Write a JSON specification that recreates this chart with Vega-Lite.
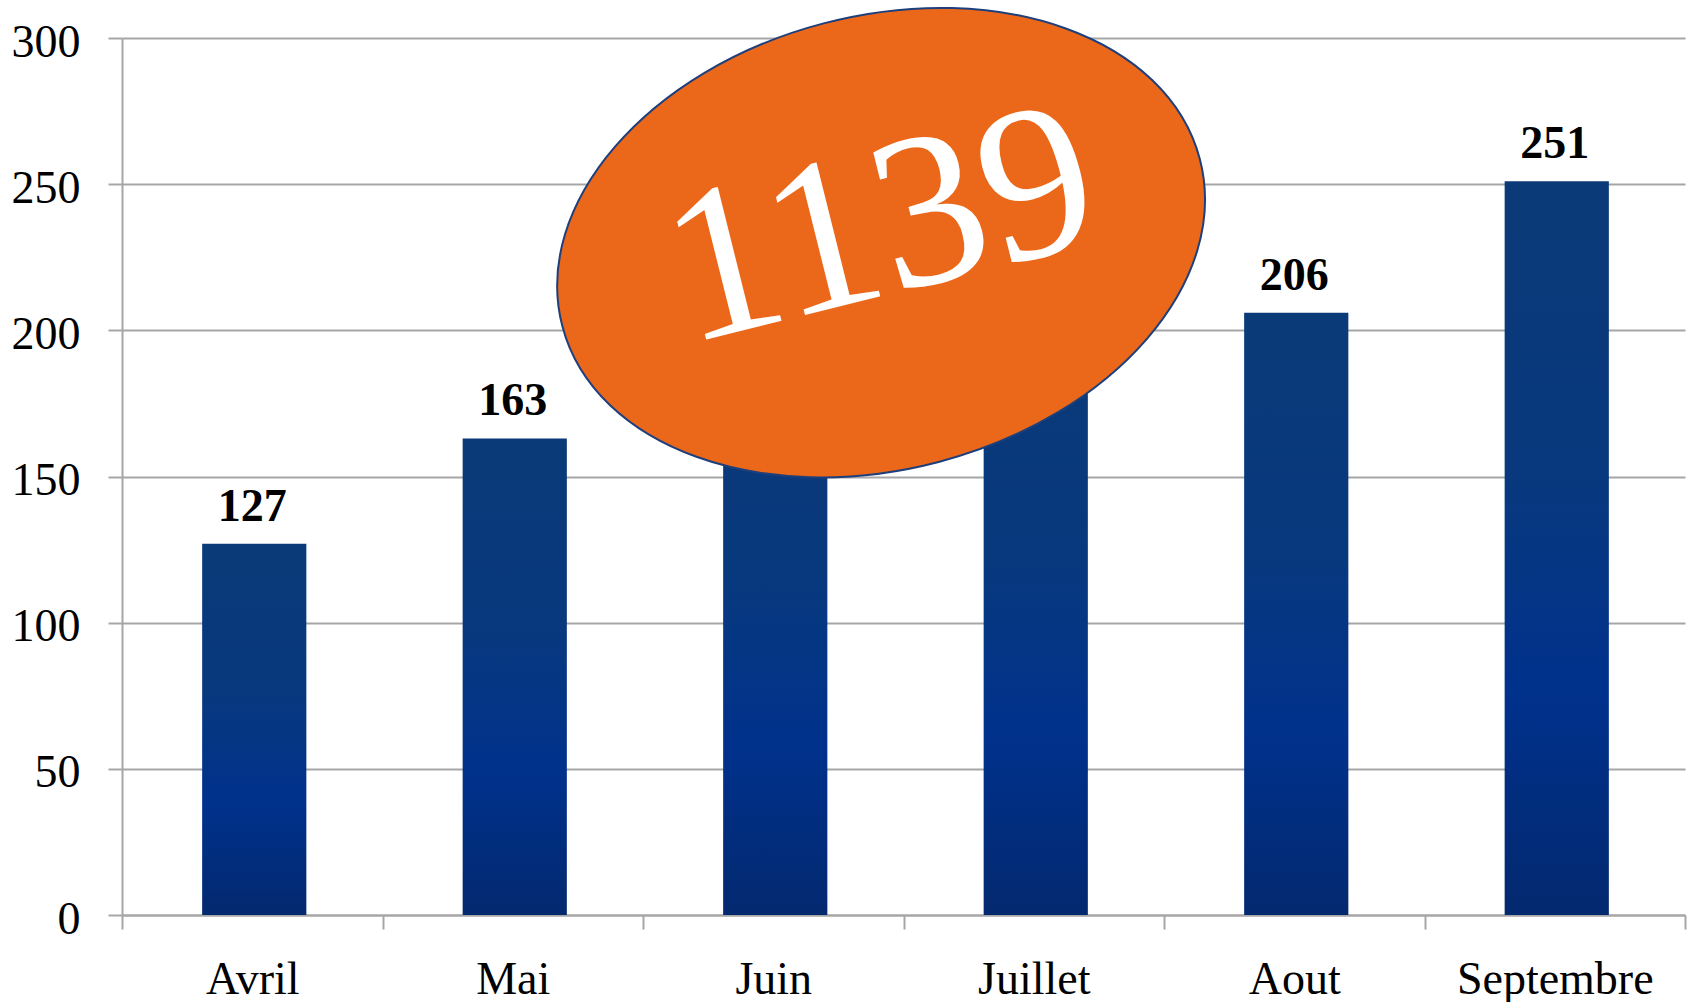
{
  "$schema": "https://vega.github.io/schema/vega-lite/v6.json",
  "width": 1563,
  "height": 877,
  "autosize": {"type": "none"},
  "padding": {"left": 122, "top": 38, "right": 11, "bottom": 87},
  "background": "white",
  "config": {
    "view": {"stroke": null},
    "font": "Liberation Serif"
  },
  "datasets": {
    "ventes": [
      {"mois": "Avril", "valeur": 127},
      {"mois": "Mai", "valeur": 163},
      {"mois": "Juin", "valeur": 190},
      {"mois": "Juillet", "valeur": 202},
      {"mois": "Aout", "valeur": 206},
      {"mois": "Septembre", "valeur": 251}
    ],
    "total": [
      {"pos": 2.914, "y": 230, "label": "1139"}
    ]
  },
  "layer": [
    {
      "data": {"name": "ventes"},
      "encoding": {
        "x": {
          "field": "mois", "type": "nominal", "sort": null,
          "scale": {"paddingInner": 0, "paddingOuter": 0},
          "axis": {
            "title": null, "labelAngle": 0, "labelFont": "Liberation Serif",
            "labelFontSize": 46, "labelColor": "#000", "labelBaseline": "alphabetic",
            "labelPadding": 64, "labelLimit": 400, "tickBand": "extent", "tickSize": 14,
            "tickColor": "#a6a6a6", "tickWidth": 2, "domainColor": "#a6a6a6",
            "domainWidth": 2, "grid": false
          }
        },
        "y": {
          "field": "valeur", "type": "quantitative",
          "scale": {"domain": [0, 300]},
          "axis": {
            "title": null, "values": [0, 50, 100, 150, 200, 250, 300],
            "labelFont": "Liberation Serif", "labelFontSize": 46, "labelColor": "#000",
            "labelPadding": 28, "labelOffset": 4, "tickSize": 14, "tickColor": "#a6a6a6", "tickWidth": 2,
            "domainColor": "#a6a6a6", "domainWidth": 2, "gridColor": "#a6a6a6",
            "gridWidth": 2
          }
        }
      },
      "layer": [
        {
          "mark": {
            "type": "bar",
            "width": {"band": 0.4},
            "xOffset": 2,
            "color": {
              "x1": 0, "y1": 0, "x2": 0, "y2": 1,
              "gradient": "linear",
              "stops": [
                {"offset": 0, "color": "#0b3a78"},
                {"offset": 0.4, "color": "#08397e"},
                {"offset": 0.7, "color": "#00318c"},
                {"offset": 1, "color": "#03296f"}
              ]
            }
          }
        },
        {
          "mark": {
            "type": "text", "font": "Liberation Serif", "fontWeight": "bold",
            "fontSize": 46, "color": "#000", "baseline": "alphabetic", "dy": -23
          },
          "encoding": {
            "text": {"field": "valeur", "type": "quantitative"}
          }
        }
      ]
    },
    {
      "data": {"name": "total"},
      "encoding": {
        "x": {"field": "pos", "type": "quantitative", "scale": {"domain": [0, 6]}, "axis": null}
      },
      "layer": [
        {
          "mark": {
            "type": "point",
            "shape": "M -1 0 A 1 0.688 0 1 0 1 0 A 1 0.688 0 1 0 -1 0 Z",
            "size": 434281,
            "filled": true,
            "fill": "#eb6719",
            "fillOpacity": 1,
            "opacity": 1,
            "stroke": "#1d3f7c",
            "strokeWidth": 2,
            "angle": -14.7
          },
          "encoding": {
            "y": {"field": "y", "type": "quantitative"}
          }
        },
        {
          "mark": {
            "type": "text", "font": "Liberation Serif", "fontSize": 220,
            "color": "#ffffff", "align": "center", "baseline": "middle", "angle": -14
          },
          "encoding": {
            "y": {"datum": 235, "type": "quantitative"},
            "text": {"field": "label", "type": "nominal"}
          }
        }
      ]
    }
  ],
  "resolve": {"scale": {"x": "independent"}}
}
